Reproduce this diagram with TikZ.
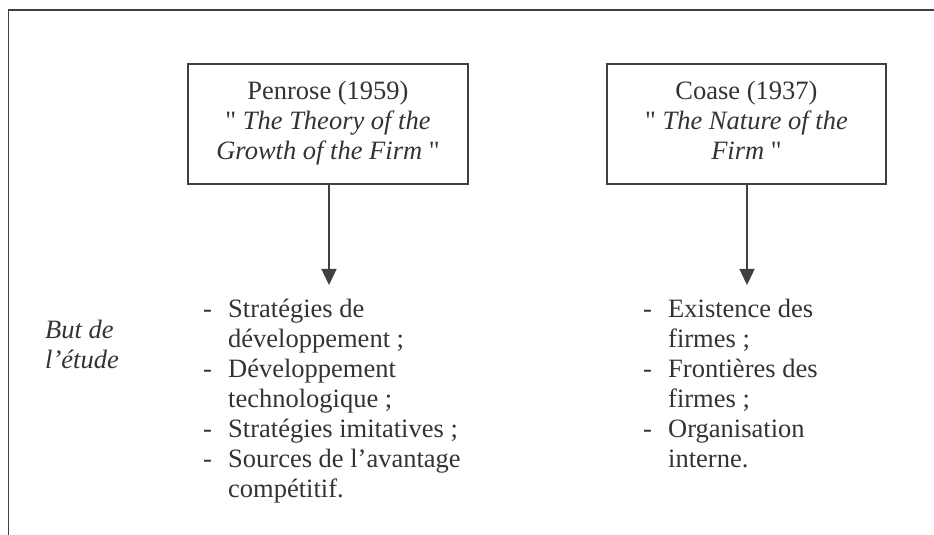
\documentclass[tikz,border=0pt]{standalone}
\usepackage{fontspec}
\setmainfont{Liberation Serif}
\usetikzlibrary{arrows.meta}
\definecolor{ink}{HTML}{333333}
\definecolor{rule}{HTML}{404040}
\begin{document}
\begin{tikzpicture}[x=1bp,y=-1bp,
  txt/.style={text=ink,font=\fontsize{26.5bp}{30bp}\selectfont,inner sep=0pt},
  srcbox/.style={txt,draw=rule,line width=1.4bp,align=center,minimum width=280bp,minimum height=120bp},
  listtxt/.style={txt,align=left,anchor=north west},
  conn/.style={draw=rule,line width=1.4bp,-{Triangle[length=16bp,width=15bp]}}]
\useasboundingbox (0,0) rectangle (934,535);
\draw[rule,line width=1.8bp] (8.5,535) -- (8.5,10) -- (934,10);
\newcommand{\itm}{\makebox[25bp][l]{-}}
\newcommand{\ind}{\hspace*{25bp}}
\newcommand{\dq}{\textquotedbl}
\node[srcbox] (pen) at (328,124) {\strut Penrose (1959)\\\dq{} \textit{The Theory of the}\\\textit{Growth of the Firm} \dq\strut};
\node[srcbox,minimum width=279bp] (coa) at (746.5,124) {\strut Coase (1937)\\\dq{} \textit{The Nature of the}\\\textit{Firm} \dq\strut};
\coordinate (pend) at (329,285);
\coordinate (coad) at (747,285);
\draw[conn] (pen.south -| pend) -- (pend);
\draw[conn] (coa.south -| coad) -- (coad);
\node[listtxt] (but) at (45,317) {\strut\textit{But de}\\\textit{l’étude}};
\node[listtxt] (penl) at (203,296) {\strut\itm Stratégies de\\\ind développement ;\\\itm Développement\\\ind technologique ;\\\itm Stratégies imitatives ;\\\itm Sources de l’avantage\\\ind compétitif.};
\node[listtxt] (coal) at (643,296) {\strut\itm Existence des\\\ind firmes ;\\\itm Frontières des\\\ind firmes ;\\\itm Organisation\\\ind interne.};
\end{tikzpicture}
\end{document}
